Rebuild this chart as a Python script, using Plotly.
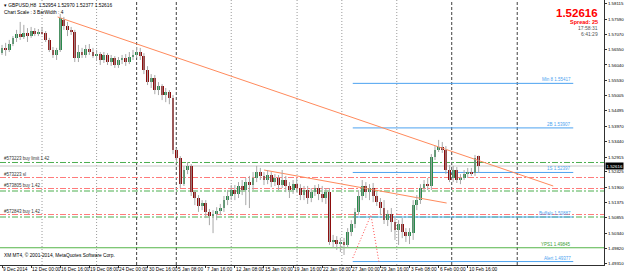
import plotly.graph_objects as go

# ---------------- data (GBPUSD H8) ----------------
bar_open = [1.5645,1.5662,1.5655,1.5675,1.5696,1.5709,1.5699,1.5712,1.5702,1.5719,
            1.5709,1.5716,1.5712,1.5689,1.5655,1.5638,1.5655,1.5756,1.5736,1.5723,
            1.5716,1.5628,1.5648,1.5638,1.5658,1.5648,1.5634,1.5641,1.5621,1.5638,
            1.5614,1.5628,1.5604,1.5621,1.5628,1.5614,1.5631,1.5638,1.5648,1.5634,
            1.5587,1.5546,1.5560,1.5519,1.5532,1.5502,1.5512,1.5492,1.5316,1.5289,
            1.5200,1.5248,1.5261,1.5173,1.5153,1.5126,1.5136,1.5106,1.5092,1.5099,
            1.5109,1.5119,1.5146,1.5160,1.5180,1.5167,1.5194,1.5180,1.5207,1.5197,
            1.5221,1.5241,1.5228,1.5214,1.5231,1.5207,1.5221,1.5197,1.5214,1.5194,
            1.5180,1.5200,1.5187,1.5163,1.5180,1.5153,1.5173,1.5187,1.5167,1.5153,
            1.5173,1.5004,1.5011,1.4997,1.5004,1.4994,1.5038,1.5065,1.5106,1.5160,
            1.5194,1.5173,1.5187,1.5160,1.5139,1.5119,1.5078,1.5099,1.5072,1.5045,
            1.5065,1.5038,1.5024,1.5034,1.5129,1.5146,1.5187,1.5200,1.5194,1.5292,
            1.5316,1.5326,1.5316,1.5248,1.5221,1.5248,1.5214,1.5221,1.5234,1.5241,
            1.5238,1.52954]
bar_high = [1.5672,1.5679,1.5689,1.5702,1.5723,1.5750,1.5740,1.5729,1.5733,1.5729,
            1.5726,1.5733,1.5719,1.5696,1.5665,1.5662,1.5777,1.5767,1.5750,1.5733,
            1.5723,1.5672,1.5662,1.5672,1.5675,1.5662,1.5655,1.5648,1.5648,1.5644,
            1.5638,1.5634,1.5631,1.5638,1.5641,1.5648,1.5655,1.5665,1.5662,1.5644,
            1.5600,1.5573,1.5570,1.5546,1.5539,1.5526,1.5519,1.5502,1.5322,1.5295,
            1.5261,1.5275,1.5268,1.5180,1.5163,1.5146,1.5146,1.5116,1.5112,1.5122,
            1.5133,1.5160,1.5180,1.5197,1.5197,1.5207,1.5214,1.5221,1.5228,1.5241,
            1.5262,1.5255,1.5241,1.5248,1.5241,1.5234,1.5231,1.5248,1.5228,1.5207,
            1.5214,1.5221,1.5200,1.5194,1.5194,1.5187,1.5197,1.5200,1.5194,1.5187,
            1.5187,1.5028,1.5024,1.5018,1.5018,1.5051,1.5078,1.5119,1.5180,1.5214,
            1.5207,1.5200,1.5204,1.5173,1.5153,1.5146,1.5112,1.5119,1.5092,1.5078,
            1.5085,1.5051,1.5051,1.5146,1.5163,1.5200,1.5214,1.5221,1.5302,1.5329,
            1.5350,1.5343,1.5329,1.5265,1.5262,1.5258,1.5234,1.5248,1.5255,1.5255,
            1.5299,1.52970]
bar_low = [1.5638,1.5635,1.5648,1.5668,1.5682,1.5689,1.5692,1.5682,1.5696,1.5702,
           1.5702,1.5706,1.5682,1.5648,1.5628,1.5621,1.5648,1.5723,1.5702,1.5706,
           1.5614,1.5614,1.5628,1.5628,1.5638,1.5628,1.5621,1.5604,1.5611,1.5604,
           1.5601,1.5594,1.5594,1.5607,1.5601,1.5607,1.5621,1.5628,1.5621,1.5573,
           1.5536,1.5526,1.5505,1.5502,1.5485,1.5478,1.5471,1.5302,1.5275,1.5187,
           1.5194,1.5234,1.5160,1.5129,1.5106,1.5112,1.5085,1.5061,1.5034,1.5078,
           1.5095,1.5106,1.5129,1.5146,1.5146,1.5153,1.5163,1.5129,1.5119,1.5180,
           1.5207,1.5214,1.5197,1.5200,1.5190,1.5194,1.5180,1.5187,1.5173,1.5153,
           1.5167,1.5173,1.5146,1.5146,1.5133,1.5139,1.5160,1.5146,1.5139,1.5133,
           1.4994,1.4984,1.4977,1.4970,1.4960,1.4984,1.5024,1.5051,1.5095,1.5146,
           1.5153,1.5146,1.5139,1.5126,1.5095,1.5065,1.5058,1.5038,1.5011,1.4994,
           1.5017,1.5004,1.4997,1.5011,1.5112,1.5133,1.5173,1.5180,1.5180,1.5282,
           1.5309,1.5306,1.5234,1.5207,1.5207,1.5204,1.5200,1.5214,1.5221,1.5228,
           1.5228,1.52377]
bar_close = [1.5662,1.5655,1.5675,1.5696,1.5709,1.5699,1.5712,1.5702,1.5719,1.5709,
             1.5716,1.5712,1.5689,1.5655,1.5638,1.5655,1.5763,1.5736,1.5723,1.5716,
             1.5628,1.5648,1.5638,1.5658,1.5648,1.5634,1.5641,1.5621,1.5638,1.5614,
             1.5628,1.5604,1.5621,1.5628,1.5614,1.5631,1.5638,1.5648,1.5634,1.5587,
             1.5546,1.5560,1.5519,1.5532,1.5502,1.5512,1.5492,1.5316,1.5289,1.5200,
             1.5248,1.5261,1.5173,1.5153,1.5126,1.5136,1.5106,1.5092,1.5099,1.5109,
             1.5119,1.5146,1.5160,1.5180,1.5167,1.5194,1.5180,1.5207,1.5197,1.5221,
             1.5241,1.5228,1.5214,1.5231,1.5207,1.5221,1.5197,1.5214,1.5194,1.5180,
             1.5200,1.5187,1.5163,1.5180,1.5153,1.5173,1.5187,1.5167,1.5153,1.5173,
             1.5004,1.5011,1.4997,1.5004,1.4994,1.5038,1.5065,1.5106,1.5160,1.5194,
             1.5173,1.5187,1.5160,1.5139,1.5119,1.5078,1.5099,1.5072,1.5045,1.5065,
             1.5038,1.5024,1.5038,1.5129,1.5146,1.5187,1.5200,1.5194,1.5292,1.5316,
             1.5326,1.5316,1.5248,1.5214,1.5248,1.5214,1.5221,1.5234,1.5241,1.5234,
             1.5289,1.52616]

x_tick_bars = [0, 8, 16, 24, 32, 40, 48, 56, 64, 72, 80, 88, 96, 104, 112, 120, 128]
x_tick_labels = ["9 Dec 2014", "12 Dec 00:00", "16 Dec 16:00", "19 Dec 08:00", "24 Dec 00:00",
                 "30 Dec 16:00", "5 Jan 08:00", "7 Jan 16:00", "12 Jan 08:00", "15 Jan 00:00",
                 "19 Jan 16:00", "22 Jan 08:00", "27 Jan 00:00", "29 Jan 16:00", "3 Feb 08:00",
                 "6 Feb 00:00", "10 Feb 16:00"]
y_tick_values = [1.58115, 1.57590, 1.57070, 1.56550, 1.56040, 1.55530, 1.55005, 1.54495, 1.53970,
                 1.53440, 1.52915, 1.52425, 1.51900, 1.51375, 1.50855, 1.50340, 1.49820, 1.49310]

bid_price = 1.52616

# Fibonacci-style levels (label, price)
fib_labels = ["Min 8 1.55417", "2B 1.53907", "1S 1.52397", "Buffalo 1.50887", "Alert 1.49377"]
fib_prices = [1.55417, 1.53907, 1.52397, 1.50887, 1.49377]
fib_start_bar = 96.4
fib_end_bar = 157.0

# pivot line
pivot_label = "YPS1 1.49845"
pivot_price = 1.49845

# order lines
order_labels = ["#573223 buy limit 1.42", "#573223 sl", "#573805 buy 1.42", "#572843 buy 1.42"]
order_entry = [1.52735, None, 1.51768, 1.50887]
order_sl = [None, 1.52226, 1.51853, 1.50972]
order_label_price = [1.52735, 1.52226, 1.51853, 1.50972]

# trendlines (bar, price)
trend1_bars = [15.3, 151.5]
trend1_prices = [1.57667, 1.51938]
trend2_bars = [72.0, 122.2]
trend2_prices = [1.52480, 1.51361]
zigzag_bars = [96.4, 101.4, 103.6]
zigzag_prices = [1.49497, 1.50955, 1.49361]

# period separators (bar positions)
sep_light = [11.0, 26.0, 63.0, 81.1, 93.4, 108.5]
sep_dark = [37.0, 47.9, 123.6, 141.6]

# ---------------- figure ----------------
n = len(bar_close)
idx = list(range(n))
wx, wy = [], []
for i in idx:
    wx += [i, i, None]
    wy += [bar_low[i], bar_high[i], None]

body_base = [min(o, c) for o, c in zip(bar_open, bar_close)]
body_h = [max(abs(c - o), 0.00004) for o, c in zip(bar_open, bar_close)]
body_col = ["#2A8A4C" if c >= o else "#8C0C0C" for o, c in zip(bar_open, bar_close)]

fig = go.Figure()

GREEN = "#4CAF50"
RED = "#FF7B7B"
BLUE = "#4DA3F0"
ORANGE = "#FF8A5C"

shapes = []
for b in sep_light:
    shapes.append(dict(type="line", xref="x", yref="paper", x0=b, x1=b, y0=0, y1=1,
                       line=dict(color="#9A9A9A", width=1, dash="1px,2px"), layer="below"))
for b in sep_dark:
    shapes.append(dict(type="line", xref="x", yref="paper", x0=b, x1=b, y0=0, y1=1,
                       line=dict(color="#404040", width=1, dash="3px,2px"), layer="below"))
shapes.append(dict(type="line", xref="paper", yref="y", x0=0, x1=1, y0=bid_price, y1=bid_price,
                   line=dict(color="#C8C8C8", width=1), layer="below"))
shapes.append(dict(type="line", xref="paper", yref="y", x0=0, x1=1, y0=pivot_price, y1=pivot_price,
                   line=dict(color="#55B548", width=1.2), layer="below"))
for e in order_entry:
    if e is not None:
        shapes.append(dict(type="line", xref="paper", yref="y", x0=0, x1=1, y0=e, y1=e,
                           line=dict(color=GREEN, width=1, dash="6px,2px,2px,2px"), layer="below"))
for s in order_sl:
    if s is not None:
        shapes.append(dict(type="line", xref="paper", yref="y", x0=0, x1=1, y0=s, y1=s,
                           line=dict(color=RED, width=1, dash="6px,2px,2px,2px"), layer="below"))
for p in fib_prices:
    shapes.append(dict(type="line", xref="x", yref="y", x0=fib_start_bar, x1=fib_end_bar, y0=p, y1=p,
                       line=dict(color=BLUE, width=1), layer="below"))

fig.add_trace(go.Scatter(x=trend1_bars, y=trend1_prices, mode="lines",
                         line=dict(color=ORANGE, width=1), hoverinfo="skip"))
fig.add_trace(go.Scatter(x=trend2_bars, y=trend2_prices, mode="lines",
                         line=dict(color=ORANGE, width=1), hoverinfo="skip"))
fig.add_trace(go.Scatter(x=zigzag_bars, y=zigzag_prices, mode="lines",
                         line=dict(color="#FF4A4A", width=1, dash="1px,2px"), hoverinfo="skip"))

fig.add_trace(go.Scatter(x=wx, y=wy, mode="lines", line=dict(color="#A8A8A8", width=1),
                         hoverinfo="skip"))
fig.add_trace(go.Bar(x=idx, y=body_h, base=body_base, width=0.78,
                     marker=dict(color=body_col, line=dict(width=0)), hoverinfo="skip"))

annotations = []
FONT = "Liberation Sans"
# x-axis labels, left-aligned at their ticks (MetaTrader style)
for b, lab in zip(x_tick_bars, x_tick_labels):
    annotations.append(dict(x=b, y=0, xref="x", yref="paper", text=lab, showarrow=False,
                            xanchor="left", yanchor="top", xshift=0, yshift=-1, borderpad=0,
                            font=dict(family=FONT, size=4.8, color="#000000")))
for lab, p in zip(fib_labels, fib_prices):
    annotations.append(dict(x=fib_end_bar, y=p, xref="x", yref="y", text=lab, showarrow=False,
                            xanchor="right", yanchor="bottom", yshift=-1,
                            font=dict(family=FONT, size=4.5, color=BLUE)))
annotations.append(dict(x=fib_end_bar, y=pivot_price, xref="x", yref="y", text=pivot_label,
                        showarrow=False, xanchor="right", yanchor="bottom", yshift=-1,
                        font=dict(family=FONT, size=4.5, color="#3E9E36")))
for lab, p in zip(order_labels, order_label_price):
    annotations.append(dict(x=0.004, y=p, xref="paper", yref="y", text=lab, showarrow=False,
                            xanchor="left", yanchor="bottom", yshift=-1,
                            font=dict(family=FONT, size=4.5, color="#333333")))
annotations.append(dict(x=0.004, y=1.0, xref="paper", yref="paper",
                        text="▾ GBPUSD,H8  1.52954 1.52970 1.52377 1.52616", showarrow=False,
                        xanchor="left", yanchor="top", yshift=-1,
                        font=dict(family=FONT, size=4.8, color="#000000")))
annotations.append(dict(x=0.004, y=1.0, xref="paper", yref="paper",
                        text="Chart Scale : 3 BarWidth : 4", showarrow=False,
                        xanchor="left", yanchor="top", yshift=-8,
                        font=dict(family=FONT, size=4.8, color="#000000")))
annotations.append(dict(x=0.994, y=1.0, xref="paper", yref="paper", text="<b>1.52616</b>",
                        showarrow=False, xanchor="right", yanchor="top", yshift=-5,
                        font=dict(family=FONT, size=11.5, color="#FF0000")))
annotations.append(dict(x=0.994, y=1.0, xref="paper", yref="paper", text="<b>Spread: 25</b>",
                        showarrow=False, xanchor="right", yanchor="top", yshift=-17,
                        font=dict(family=FONT, size=5.5, color="#FF0000")))
annotations.append(dict(x=0.994, y=1.0, xref="paper", yref="paper", text="17:58:31",
                        showarrow=False, xanchor="right", yanchor="top", yshift=-23,
                        font=dict(family=FONT, size=5, color="#555555")))
annotations.append(dict(x=0.994, y=1.0, xref="paper", yref="paper", text="6:41:29",
                        showarrow=False, xanchor="right", yanchor="top", yshift=-28.5,
                        font=dict(family=FONT, size=5, color="#555555")))
annotations.append(dict(x=0.004, y=0, xref="paper", yref="paper",
                        text="XM MT4, © 2001-2014, MetaQuotes Software Corp.", showarrow=False,
                        xanchor="left", yanchor="bottom", yshift=5,
                        font=dict(family=FONT, size=4.8, color="#000000")))
annotations.append(dict(x=1.0, y=bid_price, xref="paper", yref="y", text="1.52616",
                        showarrow=False, xanchor="left", yanchor="middle", xshift=1,
                        bgcolor="#000000", borderpad=0.5,
                        font=dict(family=FONT, size=4.4, color="#FFFFFF")))

fig.update_layout(
    width=625, height=273,
    margin=dict(l=0, r=21, t=0, b=8, autoexpand=False),
    paper_bgcolor="#FFFFFF", plot_bgcolor="#FFFFFF",
    showlegend=False, hovermode=False, bargap=0,
    shapes=shapes, annotations=annotations,
    xaxis=dict(range=[-0.55, 165.45], tickmode="array", tickvals=x_tick_bars,
               ticks="outside", ticklen=2, tickcolor="#303030", showticklabels=False,
               showgrid=False, zeroline=False,
               showline=True, linecolor="#303030", linewidth=1, mirror=True, automargin=False),
    yaxis=dict(range=[1.4926, 1.58243], side="right", tickmode="array",
               tickvals=y_tick_values, ticktext=[f"{v:.5f}" for v in y_tick_values],
               ticks="outside", ticklen=2, tickcolor="#303030", showgrid=False,
               zeroline=False, showline=True, linecolor="#303030", linewidth=1, mirror=True,
               tickfont=dict(family=FONT, size=4.4, color="#000000"), automargin=False),
)

fig.write_html("out.html")
